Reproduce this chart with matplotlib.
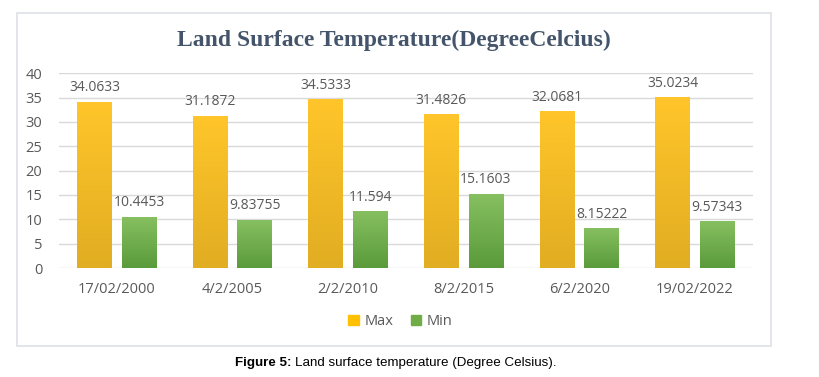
import matplotlib.pyplot as plt
import numpy as np
from matplotlib.patches import Rectangle, Patch

dates = ['17/02/2000', '4/2/2005', '2/2/2010', '8/2/2015', '6/2/2020', '19/02/2022']
max_temp = [34.0633, 31.1872, 34.5333, 31.4826, 32.0681, 35.0234]
min_temp = [10.4453, 9.83755, 11.594, 15.1603, 8.15222, 9.57343]
max_labels = ['34.0633', '31.1872', '34.5333', '31.4826', '32.0681', '35.0234']
min_labels = ['10.4453', '9.83755', '11.594', '15.1603', '8.15222', '9.57343']

txt_font = ['Open Sans', 'DejaVu Sans']
gray = '#595959'

fig = plt.figure(figsize=(8.19, 3.77), dpi=100)

# chart frame
fig.patches.append(Rectangle((0.0208, 0.082), 0.9206, 0.883, transform=fig.transFigure,
                             fill=False, edgecolor='#dde1e6', linewidth=1.2))

ax = fig.add_axes([0.072, 0.289, 0.847, 0.517])

def grad_bars(xs, vals, width, top, bottom):
    c_top = np.array(plt.matplotlib.colors.to_rgb(top))
    c_bot = np.array(plt.matplotlib.colors.to_rgb(bottom))
    t = np.linspace(0, 1, 64)[:, None]
    img = (c_top * (1 - t) + c_bot * t)[:, None, :]
    for x, v in zip(xs, vals):
        ax.imshow(img, extent=[x - width / 2, x + width / 2, 0, v], aspect='auto',
                  interpolation='bilinear', zorder=2)

x = np.arange(len(dates))
w = 0.30
off = 0.193
grad_bars(x - off, max_temp, w, '#ffc52a', '#e1ad22')
grad_bars(x + off, min_temp, w, '#86bf60', '#5a9b3b')

for xi, v, s in zip(x - off, max_temp, max_labels):
    ax.text(xi, v + 1.4, s, ha='center', va='bottom', fontsize=10, color=gray, family=txt_font)
for xi, v, s in zip(x + off, min_temp, min_labels):
    ax.text(xi, v + 1.4, s, ha='center', va='bottom', fontsize=10, color=gray, family=txt_font)

ax.set_xlim(-0.5, len(dates) - 0.5)
ax.set_ylim(0, 40)
ax.set_yticks(range(0, 41, 5))
ax.set_xticks(x)
ax.set_xticklabels(dates)
ax.yaxis.grid(True, color='#d9d9d9', linewidth=1)
ax.set_axisbelow(True)
for s in ax.spines.values():
    s.set_visible(False)
ax.tick_params(length=0, labelsize=10.5, colors=gray, pad=10)
ax.tick_params(axis='y', pad=12)
for lab in ax.get_xticklabels() + ax.get_yticklabels():
    lab.set_family(txt_font)

fig.text(0.481, 0.893, 'Land Surface Temperature(DegreeCelcius)', ha='center', va='center',
         fontsize=17, fontweight='bold', family='Liberation Serif', color='#44546a')

handles = [Patch(color='#ffc000', label='Max'), Patch(color='#70ad47', label='Min')]
fig.legend(handles=handles, loc='center', bbox_to_anchor=(0.489, 0.146), ncol=2, frameon=False,
           handlelength=0.7, handleheight=0.7, handletextpad=0.4, columnspacing=1.2,
           prop={'family': txt_font, 'size': 10.5}, labelcolor=gray)

# caption
fig.canvas.draw()
r = fig.canvas.get_renderer()
t1 = fig.text(235 / 819, 1 - 363 / 377, 'Figure 5:', ha='left', va='center', fontsize=9.6,
              fontweight='bold', family='Liberation Sans', color='black')
bb = t1.get_window_extent(renderer=r)
fig.text(bb.x1 / fig.bbox.width + 0.004, 1 - 363 / 377, 'Land surface temperature (Degree Celsius).',
         ha='left', va='center', fontsize=9.6, family='Liberation Sans', color='black')

fig.savefig('out.png', dpi=100)
